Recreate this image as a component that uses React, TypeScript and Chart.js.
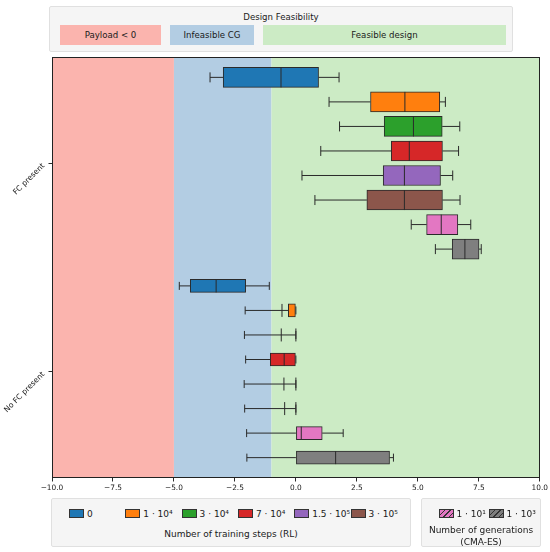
import React, { useEffect, useRef } from 'react';
import { Chart, registerables } from 'chart.js';

Chart.register(...registerables);

// ---------- data ----------
const groups = ['FC present', 'No FC present'];
const groupOffsets = [0, 8.5];

const rlLabels = ['0', '1 · 10⁴', '3 · 10⁴', '7 · 10⁴', '1.5 · 10⁵', '3 · 10⁵'];
const esLabels = ['1 · 10¹', '1 · 10³'];
const seriesColors = ['#1f77b4', '#ff7f0e', '#2ca02c', '#d62728', '#9467bd', '#8c564b', '#e377c2', '#7f7f7f'];

// FC present
const fcLow = [-3.52, 1.36, 1.79, 1.02, 0.25, 0.78, 4.73, 5.72];
const fcQ1 = [-2.98, 3.06, 3.62, 3.91, 3.58, 2.91, 5.36, 6.41];
const fcMed = [-0.61, 4.47, 4.82, 4.65, 4.45, 4.45, 5.96, 6.93];
const fcQ3 = [0.93, 5.9, 6.0, 6.01, 5.93, 6.01, 6.64, 7.51];
const fcHigh = [1.77, 6.13, 6.72, 6.67, 6.43, 6.73, 7.17, 7.6];

// No FC present
const nfLow = [-4.78, -2.08, -2.11, -2.06, -2.12, -2.1, -2.02, -2.01];
const nfQ1 = [-4.33, -0.31, 0, -1.05, 0, 0, 0, 0];
const nfMed = [-3.27, -0.57, -0.6, -0.48, -0.49, -0.46, 0.22, 1.63];
const nfQ3 = [-2.06, 0, 0, 0, 0, 0, 1.08, 3.84];
const nfHigh = [-1.09, 0, 0, 0, 0, 0, 1.94, 4.0];

const zoneEdges = [-10, -5, -1, 10];
const zoneLabels = ['Payload < 0', 'Infeasible CG', 'Feasible design'];
const zoneColors = ['#fbb4ae', '#b3cde3', '#ccebc5'];

const xMin = -10;
const xMax = 10;
const xStep = 2.5;

// ---------- styling ----------
const FONT = "'DejaVu Sans', sans-serif";
const LINE = '#2a2a2a';
const TEXT = '#1a1a1a';
const boxThickness = [20, 13];
const capThickness = [10, 8];
const groupCenters = groupOffsets.map((o) => o + 3.5);

const zonePlugin = {
  id: 'zones',
  beforeDatasetsDraw(chart: any) {
    const { ctx, chartArea, scales } = chart;
    const xs = scales.x;
    ctx.save();
    for (let i = 0; i < zoneColors.length; i++) {
      const a = xs.getPixelForValue(zoneEdges[i]);
      const b = xs.getPixelForValue(zoneEdges[i + 1]);
      ctx.fillStyle = zoneColors[i];
      ctx.fillRect(a, chartArea.top, b - a, chartArea.bottom - chartArea.top);
    }
    // whiskers and caps (under the boxes)
    ctx.strokeStyle = LINE;
    ctx.lineWidth = 1;
    chart.data.datasets.forEach((ds: any) => {
      const s = ds.stats;
      const yc = scales.y.getPixelForValue(s.pos);
      const cap = capThickness[s.group];
      const pLow = xs.getPixelForValue(s.low);
      const pQ1 = xs.getPixelForValue(s.q1);
      const pQ3 = xs.getPixelForValue(s.q3);
      const pHigh = xs.getPixelForValue(s.high);
      ctx.beginPath();
      ctx.moveTo(pLow, yc);
      ctx.lineTo(pQ1, yc);
      ctx.moveTo(pQ3, yc);
      ctx.lineTo(pHigh, yc);
      ctx.moveTo(pLow, yc - cap / 2);
      ctx.lineTo(pLow, yc + cap / 2);
      ctx.moveTo(pHigh, yc - cap / 2);
      ctx.lineTo(pHigh, yc + cap / 2);
      ctx.stroke();
    });
    ctx.restore();
  },
  afterDatasetsDraw(chart: any) {
    const { ctx, scales } = chart;
    const xs = scales.x;
    ctx.save();
    ctx.strokeStyle = LINE;
    ctx.lineWidth = 1;
    chart.data.datasets.forEach((ds: any) => {
      const s = ds.stats;
      const yc = scales.y.getPixelForValue(s.pos);
      const h = boxThickness[s.group];
      ctx.beginPath();
      const pm = xs.getPixelForValue(s.med);
      ctx.moveTo(pm, yc - h / 2);
      ctx.lineTo(pm, yc + h / 2);
      if (s.q1 === s.q3) {
        const pq = xs.getPixelForValue(s.q1);
        ctx.moveTo(pq, yc - h / 2);
        ctx.lineTo(pq, yc + h / 2);
      }
      ctx.stroke();
    });
    ctx.restore();
  },
  afterDraw(chart: any) {
    const { ctx, chartArea, scales } = chart;
    ctx.save();
    ctx.strokeStyle = '#222';
    ctx.lineWidth = 1;
    ctx.strokeRect(
      Math.round(chartArea.left) + 0.5,
      Math.round(chartArea.top) + 0.5,
      Math.round(chartArea.right - chartArea.left) - 1,
      Math.round(chartArea.bottom - chartArea.top) - 1
    );
    // rotated y tick labels
    ctx.fillStyle = TEXT;
    ctx.font = `7.6px ${FONT}`;
    ctx.textAlign = 'right';
    ctx.textBaseline = 'middle';
    groupCenters.forEach((v, i) => {
      const y = scales.y.getPixelForValue(v);
      ctx.save();
      ctx.translate(chartArea.left - 8.5, y + 1.5);
      ctx.rotate(-Math.PI / 4);
      ctx.fillText(groups[i], 0, 0);
      ctx.restore();
    });
    ctx.restore();
  },
};

function buildDatasets() {
  const all = [
    { low: fcLow, q1: fcQ1, med: fcMed, q3: fcQ3, high: fcHigh },
    { low: nfLow, q1: nfQ1, med: nfMed, q3: nfQ3, high: nfHigh },
  ];
  const out: any[] = [];
  all.forEach((g, gi) => {
    g.q1.forEach((_, i) => {
      const pos = groupOffsets[gi] + i;
      out.push({
        type: 'bar',
        label: groups[gi] + ' ' + i,
        data: [{ x: [g.q1[i], g.q3[i]], y: pos }],
        backgroundColor: seriesColors[i],
        borderColor: LINE,
        borderWidth: 1,
        borderSkipped: false,
        barThickness: boxThickness[gi],
        grouped: false,
        stats: { low: g.low[i], q1: g.q1[i], med: g.med[i], q3: g.q3[i], high: g.high[i], pos, group: gi },
      });
    });
  });
  return out;
}

const fmtTick = (v: number) => {
  const s = Math.abs(v).toFixed(1);
  return v < 0 ? '\u2212' + s : s;
};

export default function App() {
  const ref = useRef<HTMLCanvasElement | null>(null);

  useEffect(() => {
    if (!ref.current) return;
    const chart = new Chart(ref.current, {
      type: 'bar',
      data: { datasets: buildDatasets() },
      options: {
        animation: false,
        responsive: false,
        indexAxis: 'y',
        layout: { padding: { left: 0, right: 10, top: 57, bottom: 54 } },
        plugins: { legend: { display: false }, tooltip: { enabled: false }, title: { display: false } },
        scales: {
          x: {
            type: 'linear',
            min: xMin,
            max: xMax,
            offset: false,
            ticks: {
              stepSize: xStep,
              color: TEXT,
              font: { family: FONT, size: 7.4 },
              padding: 2,
              maxRotation: 0,
              callback: (v: any) => fmtTick(Number(v)),
            },
            grid: { display: true, offset: false, drawOnChartArea: false, drawTicks: true, tickLength: 3.5, color: LINE },
            border: { display: false },
            afterFit: (s: any) => {
              s.height = 20;
            },
          },
          y: {
            type: 'linear',
            reverse: true,
            min: -0.83,
            max: 16.33,
            offset: false,
            afterBuildTicks: (s: any) => {
              s.ticks = groupCenters.map((v) => ({ value: v }));
            },
            ticks: {
              color: 'rgba(0,0,0,0)',
              font: { family: FONT, size: 7.4 },
              padding: 2,
              callback: (_v: any, i: number) => groups[i],
            },
            grid: { display: true, offset: false, drawOnChartArea: false, drawTicks: true, tickLength: 3.5, color: LINE },
            border: { display: false },
            afterFit: (s: any) => {
              s.width = 52;
            },
          },
        },
      } as any,
      plugins: [zonePlugin],
    });
    return () => chart.destroy();
  }, []);

  const legendBox: React.CSSProperties = {
    position: 'absolute',
    background: '#f5f5f5',
    border: '1px solid #e0e0e0',
    borderRadius: 2,
    boxSizing: 'border-box',
    fontFamily: FONT,
    color: TEXT,
  };
  const lineText = (top: number, size: number): React.CSSProperties => ({
    position: 'absolute',
    left: 0,
    width: '100%',
    top,
    height: 12,
    lineHeight: '12px',
    textAlign: 'center',
    fontSize: size,
    whiteSpace: 'nowrap',
  });

  const zonePatches = [
    { left: 10, width: 101 },
    { left: 120, width: 84 },
    { left: 213, width: 243 },
  ];

  return (
    <div style={{ position: 'absolute', left: 0, top: 0, width: 550, height: 552, background: '#fff' }}>
      <canvas ref={ref} width={550} height={552} style={{ position: 'absolute', left: 0, top: 0, display: 'block' }} />

      {/* top legend */}
      <div style={{ ...legendBox, left: 49, top: 6, width: 464, height: 46 }}>
        <div style={lineText(4, 8.6)}>Design Feasibility</div>
        {zoneLabels.map((lab, i) => (
          <div
            key={lab}
            style={{
              position: 'absolute',
              left: zonePatches[i].left,
              top: 18,
              width: zonePatches[i].width,
              height: 20,
              lineHeight: '20px',
              background: zoneColors[i],
              textAlign: 'center',
              fontSize: 8.6,
              whiteSpace: 'nowrap',
            }}
          >
            {lab}
          </div>
        ))}
      </div>

      {/* bottom-left legend */}
      <div style={{ ...legendBox, left: 51, top: 498, width: 360, height: 49 }}>
        {rlLabels.map((lab, i) => (
          <React.Fragment key={lab}>
            <div
              style={{
                position: 'absolute',
                left: 17 + i * 56.3,
                top: 10,
                width: 15,
                height: 9,
                background: seriesColors[i],
                border: '1px solid #333',
                boxSizing: 'border-box',
              }}
            />
            <div
              style={{
                position: 'absolute',
                left: 17 + i * 56.3 + 18,
                top: 8.5,
                height: 12,
                lineHeight: '12px',
                fontSize: 9,
                whiteSpace: 'nowrap',
              }}
            >
              {lab}
            </div>
          </React.Fragment>
        ))}
        <div style={lineText(29, 9)}>Number of training steps (RL)</div>
      </div>

      {/* bottom-right legend */}
      <div style={{ ...legendBox, left: 421, top: 498, width: 120, height: 49 }}>
        {esLabels.map((lab, i) => (
          <React.Fragment key={lab}>
            <div
              style={{
                position: 'absolute',
                left: 16.5 + i * 50,
                top: 10,
                width: 15,
                height: 9,
                backgroundColor: seriesColors[6 + i],
                backgroundImage:
                  'repeating-linear-gradient(135deg, rgba(0,0,0,0) 0px, rgba(0,0,0,0) 3px, #333 3px, #333 4px)',
                border: '1px solid #333',
                boxSizing: 'border-box',
              }}
            />
            <div
              style={{
                position: 'absolute',
                left: 16.5 + i * 50 + 18,
                top: 8.5,
                height: 12,
                lineHeight: '12px',
                fontSize: 9,
                whiteSpace: 'nowrap',
              }}
            >
              {lab}
            </div>
          </React.Fragment>
        ))}
        <div style={lineText(25, 9)}>Number of generations</div>
        <div style={lineText(37, 9)}>(CMA-ES)</div>
      </div>
    </div>
  );
}
